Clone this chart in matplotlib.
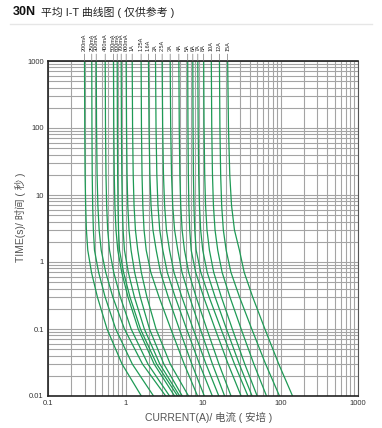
import matplotlib
matplotlib.use("Agg")
import matplotlib.pyplot as plt
from matplotlib.lines import Line2D
from matplotlib.ticker import FixedLocator, NullFormatter

plt.rcParams['font.family'] = ['Liberation Sans', 'Noto Sans CJK SC', 'DejaVu Sans']

# ---- data ----
ratings = ["200mA", "250mA", "300mA", "400mA", "500mA", "600mA", "700mA", "800mA",
           "1A", "1.25A", "1.6A", "2A", "2.5A", "3A", "4A", "5A", "6A", "7A", "8A",
           "10A", "12A", "15A"]

times = [1000, 100, 20, 7, 3, 1.5, 0.7, 0.3, 0.1, 0.03, 0.01]

currents = [
    [0.296, 0.298, 0.301, 0.306, 0.313, 0.326, 0.364, 0.434, 0.578, 0.902, 1.6],
    [0.367, 0.369, 0.372, 0.377, 0.385, 0.398, 0.450, 0.546, 0.748, 1.223, 2.3],
    [0.419, 0.423, 0.430, 0.440, 0.457, 0.486, 0.556, 0.686, 0.969, 1.656, 3.3],
    [0.547, 0.552, 0.560, 0.571, 0.589, 0.622, 0.705, 0.857, 1.182, 1.947, 3.7],
    [0.700, 0.706, 0.716, 0.730, 0.754, 0.795, 0.894, 1.077, 1.460, 2.342, 4.3],
    [0.782, 0.786, 0.792, 0.800, 0.813, 0.837, 0.944, 1.142, 1.558, 2.526, 4.7],
    [0.880, 0.886, 0.896, 0.909, 0.931, 0.970, 1.088, 1.303, 1.750, 2.770, 5.0],
    [1.020, 1.031, 1.047, 1.070, 1.110, 1.180, 1.312, 1.552, 2.040, 3.124, 5.4],
    [1.220, 1.234, 1.257, 1.289, 1.343, 1.440, 1.600, 1.889, 2.478, 3.779, 6.5],
    [1.590, 1.607, 1.634, 1.672, 1.736, 1.850, 2.122, 2.708, 3.846, 5.718, 8.5],
    [1.980, 2.012, 2.063, 2.135, 2.261, 2.490, 2.831, 3.558, 4.945, 7.174, 10.4],
    [2.440, 2.477, 2.537, 2.621, 2.766, 3.030, 3.460, 4.378, 6.142, 9.002, 13.2],
    [2.970, 3.016, 3.090, 3.194, 3.374, 3.700, 4.222, 5.335, 7.474, 10.93, 16.0],
    [3.770, 3.830, 3.927, 4.063, 4.300, 4.730, 5.359, 6.698, 9.224, 13.23, 19.0],
    [4.880, 4.938, 5.029, 5.157, 5.378, 5.770, 6.532, 8.153, 11.21, 16.05, 23.0],
    [6.350, 6.396, 6.469, 6.570, 6.742, 7.040, 8.047, 10.19, 14.34, 21.09, 31.0],
    [7.390, 7.442, 7.523, 7.635, 7.826, 8.160, 9.368, 11.99, 17.08, 25.47, 38.0],
    [8.570, 8.659, 8.801, 8.997, 9.334, 9.930, 11.33, 14.33, 20.07, 29.37, 43.0],
    [10.20, 10.32, 10.52, 10.79, 11.26, 12.10, 13.75, 17.25, 23.91, 34.58, 50.0],
    [12.80, 12.97, 13.25, 13.63, 14.30, 15.50, 17.65, 22.26, 31.06, 45.28, 66.0],
    [16.30, 16.53, 16.90, 17.41, 18.30, 19.90, 22.95, 29.57, 42.57, 64.24, 97.0],
    [20.80, 21.32, 22.15, 23.34, 25.47, 29.50, 34.01, 43.78, 62.92, 94.87, 143.0],
]

x_ticks = [0.1, 1, 10, 100, 1000]
x_ticklabels = ["0.1", "1", "10", "100", "1000"]
y_ticks = [0.01, 0.1, 1, 10, 100, 1000]
y_ticklabels = ["0.01", "0.1", "1", "10", "100", "1000"]

title_bold = "30N"
title_rest = "平均 I-T 曲线图 ( 仅供参考 )"
xlabel = "CURRENT(A)/ 电流 ( 安培 )"
ylabel = "TIME(s)/ 时间 ( 秒 )"

# ---- figure ----
W, H = 382, 428
fig = plt.figure(figsize=(W / 100, H / 100), dpi=100)
ax = fig.add_axes([48 / W, 1 - 396 / H, 310 / W, 335 / H])
ax.set_xscale('log')
ax.set_yscale('log')
ax.set_xlim(0.1, 1000)
ax.set_ylim(0.01, 1000)

grid_color = '#a4a4a4'
ax.grid(True, which='both', color=grid_color, linewidth=0.8)
ax.set_axisbelow(True)

green = '#1e9a55'
for row in currents:
    ax.plot(row, times, color=green, linewidth=0.9, solid_capstyle='round',
            solid_joinstyle='round')

ax.xaxis.set_major_locator(FixedLocator(x_ticks))
ax.yaxis.set_major_locator(FixedLocator(y_ticks))
ax.set_xticklabels(x_ticklabels)
ax.set_yticklabels(y_ticklabels)
ax.xaxis.set_minor_formatter(NullFormatter())
ax.yaxis.set_minor_formatter(NullFormatter())
ax.tick_params(which='both', length=0, labelsize=5.5, colors='#333333', pad=3)

for side in ['left', 'bottom', 'top']:
    ax.spines[side].set_color('#222222')
    ax.spines[side].set_linewidth(1.2)
ax.spines['right'].set_color('#555555')
ax.spines['right'].set_linewidth(0.8)

# rating labels with leader lines
for name, row in zip(ratings, currents):
    ax.annotate(name, xy=(row[0], 1000), xycoords='data',
                xytext=(0, 7), textcoords='offset points',
                rotation=90, ha='center', va='bottom', fontsize=4.0,
                color='#222222',
                arrowprops=dict(arrowstyle='-', color='#777777', lw=0.5,
                                shrinkA=0, shrinkB=0),
                annotation_clip=False)

ax.set_xlabel(xlabel, fontsize=7.5, color='#555555')
ax.xaxis.set_label_coords(0.519, -0.047)
ax.set_ylabel(ylabel, fontsize=7.5, color='#555555')
ax.yaxis.set_label_coords(-0.071, 0.534)

# title
fig.text(13 / W, 1 - 12 / H, title_bold, fontsize=9, fontweight='bold',
         color='#111111', va='center', ha='left')
fig.text(41 / W, 1 - 12 / H, title_rest, fontsize=7.8, color='#222222',
         va='center', ha='left')
fig.add_artist(Line2D([10 / W, 372 / W], [1 - 24 / H, 1 - 24 / H],
                      color='#e6e6e6', linewidth=1.0, transform=fig.transFigure))

fig.savefig('out.png', dpi=100)
